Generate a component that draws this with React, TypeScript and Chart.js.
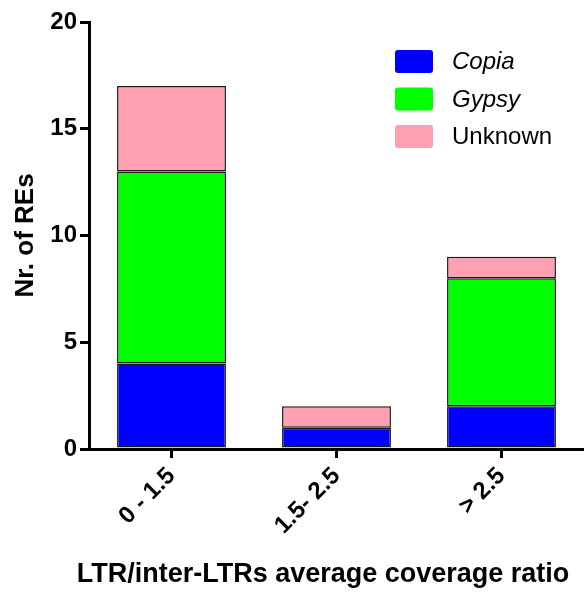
import { useEffect, useRef } from "react";
import { Chart, registerables } from "chart.js";

Chart.register(...registerables);

const categories = ["0 - 1.5", "1.5- 2.5", "> 2.5"];
const copiaValues = [4, 1, 2];
const gypsyValues = [9, 0, 6];
const unknownValues = [4, 1, 1];
const seriesNames = ["Copia", "Gypsy", "Unknown"];
const italicSeries = [true, true, false];
const seriesColors = ["#0000ff", "#00ff00", "#ffa0b2"];
const yMin = 0;
const yMax = 20;
const yStep = 5;
const xTitle = "LTR/inter-LTRs average coverage ratio";
const yTitle = "Nr. of REs";

const FONT = '"Liberation Sans", Arial, sans-serif';

const legendPlugin = {
  id: "customLegend",
  afterDraw(chart: any) {
    const ctx = chart.ctx as CanvasRenderingContext2D;
    ctx.save();
    chart.data.datasets.forEach((ds: any, i: number) => {
      const cy = 61.5 + i * 37.5;
      ctx.fillStyle = ds.backgroundColor;
      ctx.beginPath();
      (ctx as any).roundRect(395, cy - 11.5, 38, 23, 3);
      ctx.fill();
      ctx.fillStyle = "#000";
      ctx.font = `${italicSeries[i] ? "italic " : ""}24px ${FONT}`;
      ctx.textBaseline = "middle";
      ctx.textAlign = "left";
      ctx.fillText(ds.label, 452, cy + 1);
    });
    // x axis title, centred slightly left of the plot area as in the reference
    ctx.font = `bold 27px ${FONT}`;
    ctx.textAlign = "center";
    ctx.textBaseline = "middle";
    ctx.fillText(xTitle, 323, 575);
    ctx.restore();
  },
};

export default function App() {
  const ref = useRef<HTMLCanvasElement>(null);
  useEffect(() => {
    document.body.style.margin = "0";
    const values = [copiaValues, gypsyValues, unknownValues];
    const chart = new Chart(ref.current!, {
      type: "bar",
      data: {
        labels: categories,
        datasets: values.map((v, i) => ({
          label: seriesNames[i],
          data: v,
          backgroundColor: seriesColors[i],
          borderColor: "#1a1a1a",
          borderWidth: 1.5,
          borderSkipped: false,
          categoryPercentage: 1,
          barPercentage: 0.66,
        })),
      },
      options: {
        animation: false,
        responsive: false,
        maintainAspectRatio: false,
        layout: { padding: { top: 22, right: 0, left: 0, bottom: 0 } },
        plugins: { legend: { display: false }, tooltip: { enabled: false } },
        scales: {
          x: {
            stacked: true,
            afterFit: (s: any) => {
              s.height = 143;
            },
            grid: {
              display: true,
              offset: false,
              drawOnChartArea: false,
              drawTicks: true,
              tickLength: 9,
              color: "#000",
              lineWidth: 3,
            },
            border: { display: true, color: "#000", width: 3 },
            ticks: {
              color: "#000",
              font: { family: FONT, size: 24, weight: "bold" },
              minRotation: 45,
              maxRotation: 45,
              padding: 4,
            },
            title: { display: false, text: xTitle },
          },
          y: {
            stacked: true,
            min: yMin,
            max: yMax,
            afterFit: (s: any) => {
              s.width = 89;
            },
            grid: {
              display: true,
              drawOnChartArea: false,
              drawTicks: true,
              tickLength: 9,
              color: "#000",
              lineWidth: 3,
            },
            border: { display: true, color: "#000", width: 3 },
            ticks: {
              stepSize: yStep,
              color: "#000",
              font: { family: FONT, size: 24, weight: "bold" },
              padding: 3,
            },
            title: {
              display: true,
              text: yTitle,
              color: "#000",
              font: { family: FONT, size: 26, weight: "bold" },
              padding: { top: 10, bottom: 0 },
            },
          },
        },
      },
      plugins: [legendPlugin],
    });
    return () => chart.destroy();
  }, []);
  return (
    <div style={{ position: "absolute", left: 0, top: 0, width: 584, height: 592 }}>
      <canvas ref={ref} width={584} height={592} style={{ width: 584, height: 592 }} />
    </div>
  );
}
